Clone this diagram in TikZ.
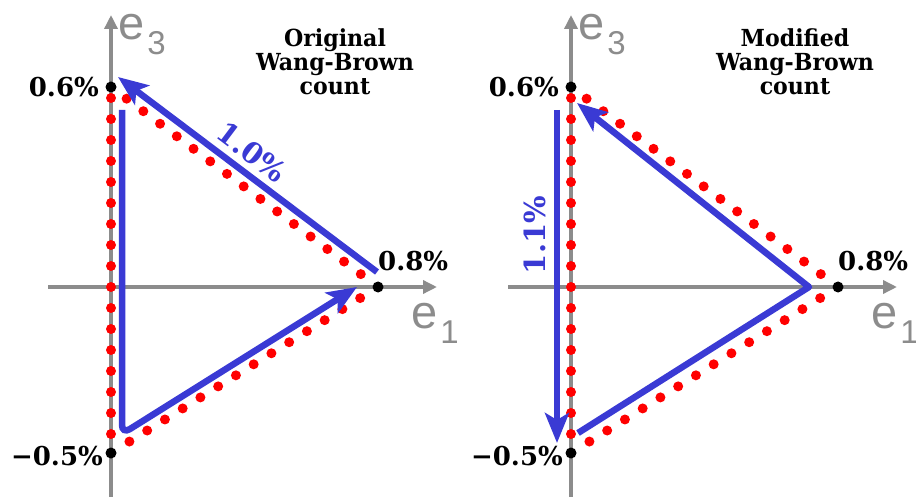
\documentclass[tikz,border=0pt]{standalone}
\usepackage{fontspec}
\setmainfont{DejaVu Serif}
\newfontfamily\axfont{Liberation Sans}
\newfontfamily\ttlfont[FakeStretch=0.94]{DejaVu Serif}
\usetikzlibrary{arrows.meta,calc}
\definecolor{axgray}{RGB}{140,140,140}
\definecolor{arrblue}{RGB}{58,58,212}
\definecolor{dotred}{RGB}{255,0,0}
\begin{document}
\begin{tikzpicture}[x=1pt,y=-1pt,
  axis/.style={draw=axgray,line width=3.4pt,-{Triangle[length=14pt,width=13pt]}},
  blk/.style={fill=black},
  reddot/.style={fill=dotred},
  barrow/.style={draw=arrblue,line width=6.5pt,-{Stealth[length=30pt,width=24pt,inset=7pt]}},
  lbl/.style={inner sep=0pt,font=\bfseries\fontsize{26}{26}\selectfont},
  blbl/.style={inner sep=0pt,text=arrblue,font=\bfseries\fontsize{29}{29}\selectfont},
  ttl/.style={inner sep=0pt,anchor=base,font=\ttlfont\bfseries\fontsize{23.5}{25}\selectfont},
  axlbl/.style={inner sep=0pt,anchor=base west,text=axgray,font=\axfont\fontsize{47}{47}\selectfont}]
\useasboundingbox (0,0) rectangle (916,497);
\foreach \p/\dx/\w in {L/0/Original,R/460/Modified}{
  \begin{scope}[xshift=\dx pt]
    % axes
    \coordinate (\p v0) at (111,505);
    \coordinate (\p v1) at (111,15);
    \coordinate (\p h0) at (48,287);
    \coordinate (\p h1) at (437,287);
    \draw[axis] (\p v0) -- (\p v1);
    \draw[axis] (\p h0) -- (\p h1);
    % vertices
    \coordinate (\p A) at (111,87);
    \coordinate (\p B) at (378,287);
    \coordinate (\p C) at (111,453);
    % red dotted triangle
    \foreach \i in {0,...,16}
      \fill[reddot] ($(\p A)!{(11+21*\i)/366}!(\p C)$) circle (5pt);
    \foreach \i in {0,...,14}
      \fill[reddot] ($(\p A)!{(19.5+20.9*\i)/333.6}!(\p B)$) circle (5pt);
    \foreach \i in {0,...,13}
      \fill[reddot] ($(\p B)!{(21+20.9*\i)/314.4}!(\p C)$) circle (5pt);
    % title
    \node[ttl] (\p t1) at (335,47) {\w};
    \node[ttl] (\p t2) at (335,71) {Wang-Brown};
    \node[ttl] (\p t3) at (335,95) {count};
    % axis labels
    \node[axlbl] (\p e3) at (118,40) {e\kern3pt\raisebox{-15pt}{\fontsize{33}{33}\selectfont 3}};
    \node[axlbl] (\p e1) at (411,328) {e\kern3pt\raisebox{-15pt}{\fontsize{33}{33}\selectfont 1}};
    % value labels
    \node[lbl,anchor=base east] (\p l06) at (99,97) {0.6\%};
    \node[lbl,anchor=base west] (\p l08) at (378,270) {0.8\%};
    \node[lbl,anchor=base east] (\p l05) at (103,465) {−0.5\%};
  \end{scope}
}
% left blue path
\coordinate (L1s) at (377,272);
\coordinate (L1e) at (118,77);
\draw[barrow] (L1s) -- (L1e);
\coordinate (L2s) at (122,110);
\coordinate (L2c) at (122,434);
\coordinate (L2e) at (357,287);
\draw[barrow,rounded corners=9pt] (L2s) -- (L2c) -- (L2e);
\node[blbl,rotate=-37] (L10) at (252,152) {1.0\%};
% right blue path
\coordinate (R1s) at (557,110);
\coordinate (R1e) at (557,443);
\draw[barrow] (R1s) -- (R1e);
\coordinate (R2s) at (578,433);
\coordinate (R2c) at (809,287);
\coordinate (R2e) at (577,103);
\draw[barrow,line join=round] (R2s) -- (R2c) -- (R2e);
\node[blbl,rotate=90] (R11) at (535,235) {1.1\%};
% black dots
\foreach \p in {L,R}{
  \fill[blk] (\p A) circle (5.5pt);
  \fill[blk] (\p B) circle (5.5pt);
  \fill[blk] (\p C) circle (5.5pt);
}
\end{tikzpicture}
\end{document}
